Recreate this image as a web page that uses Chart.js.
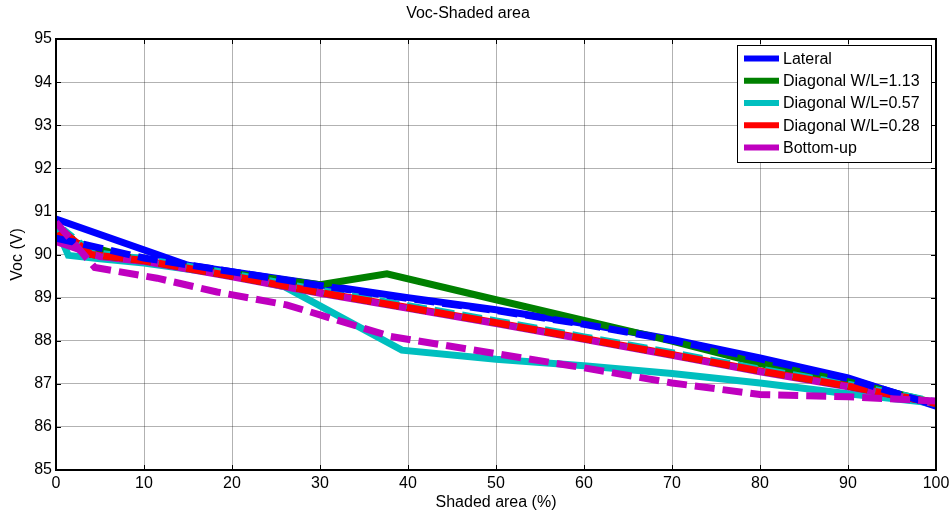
<!DOCTYPE html>
<html><head><meta charset="utf-8">
<script src="https://cdn.jsdelivr.net/npm/chart.js@4"></script>
<style>html,body{margin:0;padding:0;background:#fff;}#wrap{width:950px;height:513px;}</style>
</head><body><div id="wrap"><canvas id="c" width="950" height="513"></canvas></div>
<script>
// ---- data ----
const xLateral = [0, 15, 30, 40, 50, 60, 70, 80, 90, 100];
const yLateral = [90.82, 89.75, 89.3, 89.0, 88.72, 88.4, 88.03, 87.6, 87.14, 86.48];
const xLateralB = [0, 10, 15, 30, 40, 50, 60, 70, 80, 90, 100];
const yLateralB = [90.38, 89.92, 89.76, 89.28, 88.98, 88.7, 88.38, 88.01, 87.58, 87.12, 86.5];

const xDiag113 = [0, 10, 20, 30, 37.6, 50, 60, 70, 80, 90, 100];
const yDiag113 = [90.4, 89.84, 89.56, 89.3, 89.55, 88.95, 88.47, 87.99, 87.47, 87.05, 86.55];
const xDiag113B = [0, 1, 4, 10, 20, 30, 40, 50, 60, 70, 80, 90, 100];
const yDiag113B = [90.4, 90.5, 90.0, 89.86, 89.5, 89.12, 88.77, 88.42, 88.05, 87.68, 87.3, 86.95, 86.55];

const xDiag057 = [0, 1.4, 5, 10, 20, 26, 39.3, 50, 60, 70, 80, 90, 100];
const yDiag057 = [90.65, 89.98, 89.9, 89.8, 89.52, 89.25, 87.78, 87.57, 87.42, 87.24, 87.02, 86.77, 86.55];
const xDiag057B = [0, 1, 4, 10, 20, 30, 40, 50, 60, 70, 80, 90, 100];
const yDiag057B = [90.45, 90.55, 90.05, 89.9, 89.55, 89.17, 88.81, 88.46, 88.09, 87.72, 87.34, 86.99, 86.58];

const xDiag028 = [0, 1, 4, 10, 20, 30, 40, 50, 60, 70, 80, 90, 100];
const yDiag028 = [90.4, 90.5, 90.0, 89.86, 89.5, 89.12, 88.77, 88.42, 88.05, 87.68, 87.3, 86.95, 86.55];
const xDiag028B = [0, 1, 4, 10, 20, 30, 40, 50, 60, 70, 80, 90, 100];
const yDiag028B = [90.4, 90.5, 90.0, 89.86, 89.5, 89.12, 88.77, 88.42, 88.05, 87.68, 87.3, 86.95, 86.55];

const xBottomUp = [0, 5, 10, 20, 30, 40, 50, 60, 70, 80, 90, 100];
const yBottomUp = [90.3, 89.95, 89.84, 89.48, 89.1, 88.75, 88.4, 88.03, 87.66, 87.28, 86.93, 86.55];
const xBottomUpB = [0, 4.4, 11.5, 18.3, 26.2, 30, 38, 50, 60, 70, 80, 90, 100];
const yBottomUpB = [90.75, 89.7, 89.45, 89.13, 88.83, 88.6, 88.1, 87.7, 87.37, 87.02, 86.75, 86.7, 86.6];

const xTicks = [0, 10, 20, 30, 40, 50, 60, 70, 80, 90, 100];
const yTicks = [85, 86, 87, 88, 89, 90, 91, 92, 93, 94, 95];

const FONT = "'Liberation Sans', Arial, sans-serif";
const C = {blue:'#0000FF', green:'#008000', cyan:'#00BFBF', red:'#FF0000', mag:'#BF00BF'};

function pts(xs, ys){ return xs.map((x,i)=>({x:x, y:ys[i]})); }
function ds(label, xs, ys, color, dashed, order, inLegend){
  return {label:label, data:pts(xs,ys), borderColor:color, backgroundColor:color,
    borderWidth:7, borderDash: dashed ? [20,8] : [], borderCapStyle:'butt', borderJoinStyle:'miter',
    pointRadius:0, pointHoverRadius:0, tension:0, fill:false, order:order, inLegend:inLegend};
}

// higher order = drawn first (underneath)
const datasets = [
  ds('Lateral', xLateral, yLateral, C.blue, false, 10, true),
  ds('Diagonal W/L=1.13', xDiag113, yDiag113, C.green, false, 9, true),
  ds('Diagonal W/L=0.57', xDiag057, yDiag057, C.cyan, false, 8, true),
  ds('Diagonal W/L=0.28', xDiag028, yDiag028, C.red, false, 7, true),
  ds('Bottom-up', xBottomUp, yBottomUp, C.mag, false, 6, true),
  ds('Lateral (dashed)', xLateralB, yLateralB, C.blue, true, 1.5, false),
  ds('Diagonal W/L=1.13 (dashed)', xDiag113B, yDiag113B, C.green, true, 4, false),
  ds('Diagonal W/L=0.57 (dashed)', xDiag057B, yDiag057B, C.cyan, true, 3, false),
  ds('Diagonal W/L=0.28 (dashed)', xDiag028B, yDiag028B, C.red, true, 2, false),
  ds('Bottom-up (dashed)', xBottomUpB, yBottomUpB, C.mag, true, 1, false)
];

const frame = {
  id:'frame',
  afterDatasetsDraw(chart){
    const {ctx, chartArea:a, scales:{x,y}} = chart;
    ctx.save();
    ctx.strokeStyle = '#000'; ctx.lineWidth = 1;
    ctx.beginPath();
    xTicks.forEach(v=>{ const p = Math.round(x.getPixelForValue(v))+0.5;
      ctx.moveTo(p, a.bottom); ctx.lineTo(p, a.bottom-5);
      ctx.moveTo(p, a.top); ctx.lineTo(p, a.top+5); });
    yTicks.forEach(v=>{ const p = Math.round(y.getPixelForValue(v))+0.5;
      ctx.moveTo(a.left, p); ctx.lineTo(a.left+5, p);
      ctx.moveTo(a.right, p); ctx.lineTo(a.right-5, p); });
    ctx.stroke();
    ctx.lineWidth = 2;
    ctx.strokeRect(a.left, a.top, a.right-a.left, a.bottom-a.top);
    // legend box (MATLAB style)
    const items = chart.data.datasets.filter(d=>d.inLegend);
    const L = a.right - 199, T = a.top + 6, W = 194, H = 117;
    ctx.fillStyle = '#fff'; ctx.fillRect(L, T, W, H);
    ctx.lineWidth = 1; ctx.strokeStyle = '#000';
    ctx.strokeRect(L+0.5, T+0.5, W, H);
    ctx.font = '16px ' + FONT; ctx.textBaseline = 'middle'; ctx.textAlign = 'left';
    items.forEach((d,i)=>{
      const cy = T + 13.5 + i*22.25;
      ctx.strokeStyle = d.borderColor; ctx.lineWidth = 6; ctx.setLineDash([]);
      ctx.beginPath(); ctx.moveTo(L+7, cy); ctx.lineTo(L+42, cy); ctx.stroke();
      ctx.fillStyle = '#000'; ctx.fillText(d.label, L+46, cy+1);
    });
    ctx.restore();
  }
};

new Chart(document.getElementById('c'), {
  type:'line',
  data:{datasets:datasets},
  options:{
    responsive:false, animation:false, devicePixelRatio:1,
    layout:{padding:{top:0, right:14, bottom:0, left:0}},
    plugins:{
      legend:{display:false}, tooltip:{enabled:false},
      title:{display:true, text:'Voc-Shaded area', color:'#000',
        font:{family:FONT, size:16, weight:'normal'}, padding:{top:4, bottom:15.8}}
    },
    scales:{
      x:{type:'linear', min:0, max:100,
        afterBuildTicks(s){ s.ticks = xTicks.map(v=>({value:v})); },
        afterFit(s){ s.height = 43; s.paddingRight = 0; s.paddingLeft = 0; },
        grid:{color:'rgba(0,0,0,0.3)', lineWidth:1, drawTicks:false},
        border:{display:false},
        ticks:{color:'#000', font:{family:FONT, size:16}, padding:4, maxRotation:0, autoSkip:false},
        title:{display:true, text:'Shaded area (%)', color:'#000', font:{family:FONT, size:16}, padding:{top:1, bottom:1}}
      },
      y:{type:'linear', min:85, max:95,
        afterBuildTicks(s){ s.ticks = yTicks.map(v=>({value:v})); },
        afterFit(s){ s.width = 56; s.paddingTop = 0; s.paddingBottom = 0; },
        grid:{color:'rgba(0,0,0,0.3)', lineWidth:1, drawTicks:false},
        border:{display:false},
        ticks:{color:'#000', font:{family:FONT, size:16}, padding:4, autoSkip:false},
        title:{display:true, text:'Voc (V)', color:'#000', font:{family:FONT, size:16}, padding:{top:8, bottom:8}}
      }
    }
  },
  plugins:[frame]
});
</script></body></html>
